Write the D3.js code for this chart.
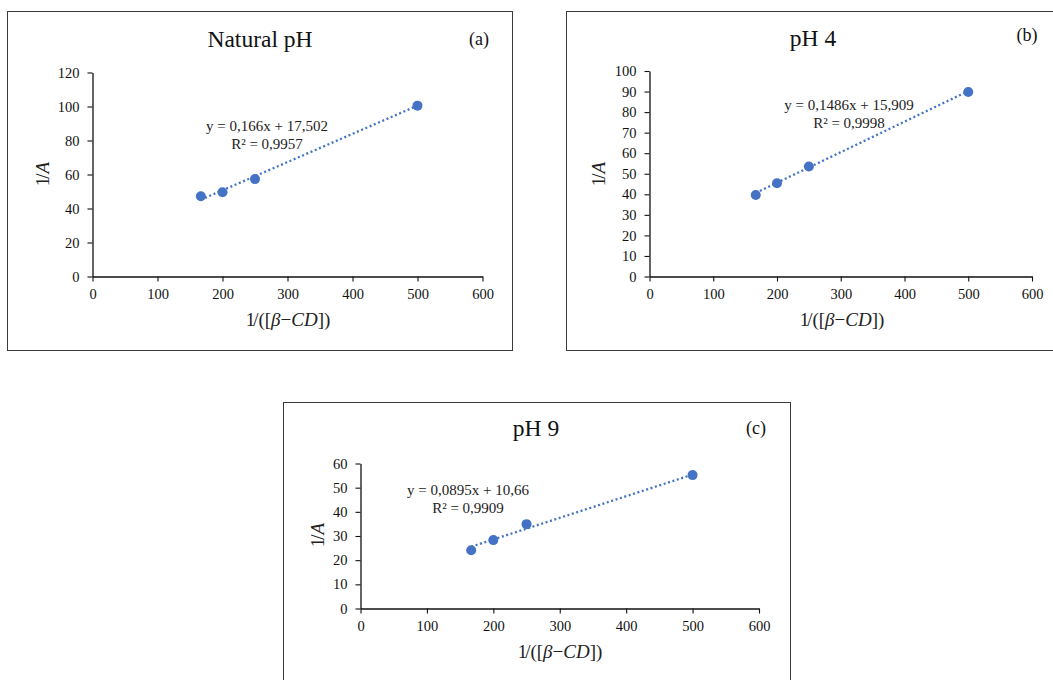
<!DOCTYPE html>
<html><head><meta charset="utf-8">
<script src="https://cdn.jsdelivr.net/npm/d3@7"></script>
<style>
html,body{margin:0;padding:0;background:#fff;}
svg{display:block;}
svg text{font-family:"Liberation Serif","Times New Roman",serif;}
</style></head><body>
<svg id="chart" width="1053" height="680"></svg>
<script>
// ---- data ----
const xValues = [166.7, 200, 250, 500];
const yNatural = [47.2, 49.6, 57.3, 100.5];
const yPH4 = [39.7, 45.4, 53.5, 89.8];
const yPH9 = [24.1, 28.3, 34.9, 55.2];
const titles = ["Natural pH", "pH 4", "pH 9"];
const tags = ["(a)", "(b)", "(c)"];
const slopes = [0.166, 0.1486, 0.0895];
const intercepts = [17.502, 15.909, 10.66];
const eqLabels = ["y = 0,166x + 17,502", "y = 0,1486x + 15,909", "y = 0,0895x + 10,66"];
const r2Labels = ["R² = 0,9957", "R² = 0,9998", "R² = 0,9909"];
const xTicks = [0, 100, 200, 300, 400, 500, 600];
const yTicksA = [0, 20, 40, 60, 80, 100, 120];
const yTicksB = [0, 10, 20, 30, 40, 50, 60, 70, 80, 90, 100];
const yTicksC = [0, 10, 20, 30, 40, 50, 60];

// ---- layout ----
const series = [yNatural, yPH4, yPH9];
const yTickSets = [yTicksA, yTicksB, yTicksC];
const layouts = [
  {box:[7.5, 11.5, 505, 339], x0:92.5, x1:482.5, y0:276.5, y1:72.5, title:[260, 47], tag:[479, 45], eq:[267, 131], ylab:[42, 174], xlab:[288, 326]},
  {box:[566.5, 11.5, 520, 339], x0:649.5, x1:1032, y0:276.5, y1:71, title:[813, 46], tag:[1027, 41], eq:[849, 110], ylab:[598, 174], xlab:[842, 326]},
  {box:[283.5, 402.5, 507, 300], x0:360.5, x1:759, y0:608.5, y1:463.5, title:[536, 436], tag:[756, 434], eq:[468, 495], ylab:[317, 535], xlab:[560, 658]}
];
const blue = "#4472C4";
const svg = d3.select("#chart");

layouts.forEach((L, i) => {
  const g = svg.append("g");
  g.append("rect").attr("x", L.box[0]).attr("y", L.box[1]).attr("width", L.box[2]).attr("height", L.box[3])
    .attr("fill", "none").attr("stroke", "#3a3a3a").attr("stroke-width", 1);

  const yt = yTickSets[i];
  const x = d3.scaleLinear().domain([0, 600]).range([L.x0, L.x1]);
  const y = d3.scaleLinear().domain([0, yt[yt.length - 1]]).range([L.y0, L.y1]);

  const xAxis = d3.axisBottom(x).tickValues(xTicks).tickSize(5).tickPadding(7).tickSizeOuter(0);
  const yAxis = d3.axisLeft(y).tickValues(yt).tickSize(5).tickPadding(8).tickSizeOuter(0);

  const gx = g.append("g").attr("transform", `translate(0,${L.y0})`).call(xAxis);
  const gy = g.append("g").attr("transform", `translate(${L.x0},0)`).call(yAxis);
  [gx, gy].forEach(a => {
    a.attr("font-family", "Liberation Serif").attr("font-size", 14.5);
    a.select(".domain").attr("stroke", "#111").attr("stroke-width", 1.3);
    a.selectAll(".tick line").attr("stroke", "#111").attr("stroke-width", 1.1);
    a.selectAll(".tick text").attr("fill", "#111");
  });

  // trendline
  const xs = xValues;
  const xmin = d3.min(xs), xmax = d3.max(xs);
  const trend = [xmin, xmax].map(v => [v, slopes[i] * v + intercepts[i]]);
  g.append("line")
    .attr("x1", x(trend[0][0])).attr("y1", y(trend[0][1]))
    .attr("x2", x(trend[1][0])).attr("y2", y(trend[1][1]))
    .attr("stroke", blue).attr("stroke-width", 2.3)
    .attr("stroke-dasharray", "2,2.6");

  // points
  g.selectAll("circle.pt").data(xs.map((v, k) => [v, series[i][k]])).enter()
    .append("circle").attr("class", "pt")
    .attr("cx", d => x(d[0])).attr("cy", d => y(d[1])).attr("r", 5)
    .attr("fill", blue);

  // title and tag
  g.append("text").attr("x", L.title[0]).attr("y", L.title[1]).attr("text-anchor", "middle")
    .attr("font-size", 23.5).attr("fill", "#111").text(titles[i]);
  g.append("text").attr("x", L.tag[0]).attr("y", L.tag[1]).attr("text-anchor", "middle")
    .attr("font-size", 18).attr("fill", "#111").text(tags[i]);

  // equation
  g.append("text").attr("x", L.eq[0]).attr("y", L.eq[1]).attr("text-anchor", "middle")
    .attr("font-size", 15).attr("fill", "#222").text(eqLabels[i]);
  g.append("text").attr("x", L.eq[0]).attr("y", L.eq[1] + 18).attr("text-anchor", "middle")
    .attr("font-size", 15).attr("fill", "#222").text(r2Labels[i]);

  // y label
  const yl = g.append("text").attr("text-anchor", "middle").attr("font-size", 19).attr("fill", "#222")
    .attr("transform", `translate(${L.ylab[0]},${L.ylab[1]}) rotate(-90)`).attr("dy", "0.35em");
  yl.append("tspan").text("1");
  yl.append("tspan").attr("dx", -2).text("/");
  yl.append("tspan").attr("font-style", "italic").text("A");

  // x label
  const xl = g.append("text").attr("x", L.xlab[0]).attr("y", L.xlab[1]).attr("text-anchor", "middle")
    .attr("font-size", 19).attr("fill", "#222");
  xl.append("tspan").text("1");
  xl.append("tspan").attr("dx", -2).text("/([");
  xl.append("tspan").attr("font-style", "italic").text("β");
  xl.append("tspan").text("−");
  xl.append("tspan").attr("font-style", "italic").text("CD");
  xl.append("tspan").text("])");
});
</script>
</body></html>
